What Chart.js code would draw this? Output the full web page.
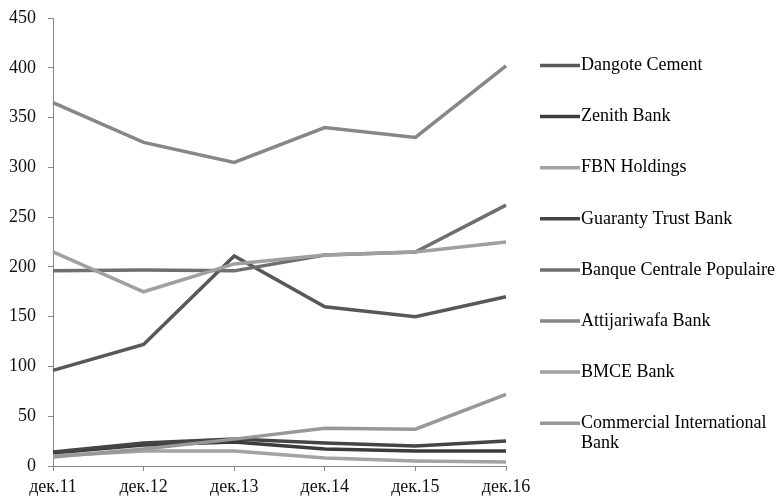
<!DOCTYPE html>
<html>
<head>
<meta charset="utf-8">
<script src="https://cdn.jsdelivr.net/npm/chart.js@4"></script>
<style>
  html, body { margin: 0; padding: 0; background: #fff; }
  #wrap { width: 779px; height: 496px; position: relative; }
</style>
</head>
<body>
<div id="wrap"><canvas id="chart" width="779" height="496"></canvas></div>
<script>
// data
const years = ['дек.11', 'дек.12', 'дек.13', 'дек.14', 'дек.15', 'дек.16'];
const yTicks = [0, 50, 100, 150, 200, 250, 300, 350, 400, 450];

const dangote = [96, 122, 211, 160, 150, 170];
const zenith = [13, 21, 24, 17, 15, 15];
const fbn = [10, 15, 15, 8, 5, 4];
const gtb = [14, 23, 27, 23, 20, 25];
const bcp = [196, 197, 196, 212, 215, 262];
const attijari = [365, 325, 305, 340, 330, 402];
const bmce = [215, 175, 203, 212, 215, 225];
const cib = [9, 17, 27, 38, 37, 72];

const names = ['Dangote Cement', 'Zenith Bank', 'FBN Holdings', 'Guaranty Trust Bank',
  'Banque Centrale Populaire', 'Attijariwafa Bank', 'BMCE Bank', 'Commercial International Bank'];
const values = [dangote, zenith, fbn, gtb, bcp, attijari, bmce, cib];
const colors = ['#585858', '#3c3c3c', '#a3a3a3', '#454545', '#6f6f6f', '#878787', '#a0a0a0', '#989898'];

const serif = '"Liberation Serif", "Times New Roman", serif';
const axisGrey = '#868686';

// legend drawn on the canvas so the last name can wrap like the original
const sideLegend = {
  id: 'sideLegend',
  afterDraw(chart) {
    const ctx = chart.ctx;
    ctx.save();
    ctx.font = '18px ' + serif;
    ctx.textBaseline = 'middle';
    ctx.fillStyle = '#000';
    chart.data.datasets.forEach((ds, i) => {
      const y = 65.5 + i * 51.1;
      ctx.strokeStyle = ds.borderColor;
      ctx.lineWidth = 3.5;
      ctx.beginPath();
      ctx.moveTo(540, y);
      ctx.lineTo(580, y);
      ctx.stroke();
      const lines = ds.label === 'Commercial International Bank'
        ? ['Commercial International', 'Bank'] : [ds.label];
      lines.forEach((t, k) => ctx.fillText(t, 581, y + k * 20));
    });
    ctx.restore();
  }
};

new Chart(document.getElementById('chart'), {
  type: 'line',
  data: {
    labels: years,
    datasets: names.map((n, i) => ({
      label: n,
      data: values[i],
      borderColor: colors[i],
      backgroundColor: colors[i],
      borderWidth: 3.5,
      pointRadius: 0,
      tension: 0,
      order: names.length - i
    }))
  },
  options: {
    responsive: false,
    animation: false,
    layout: { padding: { top: 18, right: 273, left: 0, bottom: 0 } },
    plugins: { legend: { display: false }, tooltip: { enabled: false } },
    scales: {
      x: {
        offset: false,
        grid: { display: true, drawOnChartArea: false, tickLength: 5, color: axisGrey },
        border: { color: axisGrey, width: 1 },
        ticks: { color: '#111', font: { family: serif, size: 18 }, padding: 5, maxRotation: 0, autoSkip: false },
        afterFit(s) { s.height = 30; }
      },
      y: {
        min: 0,
        max: 450,
        afterBuildTicks(s) { s.ticks = yTicks.map(v => ({ value: v })); },
        grid: { display: true, drawOnChartArea: false, tickLength: 5, color: axisGrey },
        border: { color: axisGrey, width: 1 },
        ticks: { color: '#111', font: { family: serif, size: 18 }, padding: 12 },
        afterFit(s) {
          s.width = 53;
          s.paddingTop = 0;
          s.paddingBottom = 0;
        }
      }
    }
  },
  plugins: [sideLegend]
});
</script>
</body>
</html>
